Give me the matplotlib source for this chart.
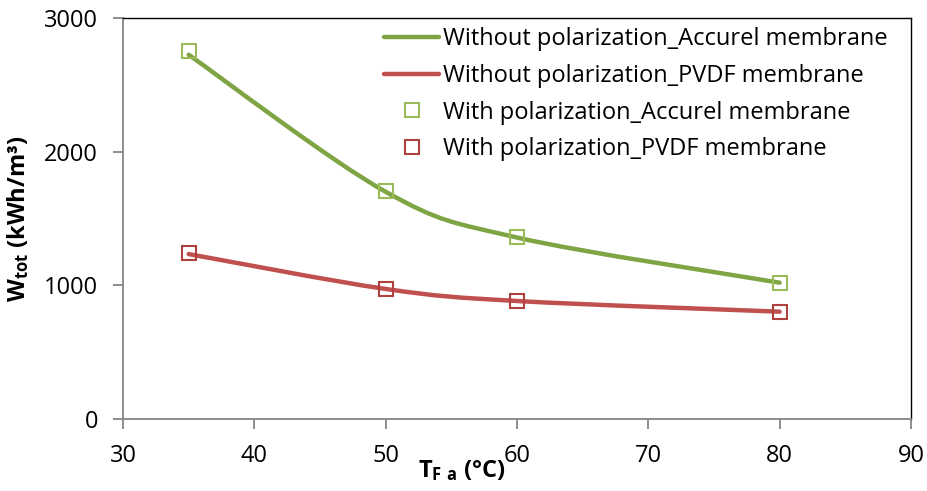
import matplotlib
matplotlib.use("Agg")
import matplotlib.pyplot as plt
from matplotlib.path import Path
from matplotlib.patches import PathPatch
from matplotlib.lines import Line2D

# data
temps = [35, 50, 60, 80]
line_accurel = [2725, 1700, 1358, 1020]
line_pvdf = [1234, 973, 883, 803]
pol_accurel = [2755, 1706, 1362, 1017]
pol_pvdf = [1242, 973, 883, 800]

GREEN_LINE = "#7EA444"
RED_LINE = "#C0504D"
GREEN_MK = "#9BBB59"
RED_MK = "#B0403D"
GREY = "#868686"

plt.rcParams['font.family'] = ['Open Sans', 'DejaVu Sans']
plt.rcParams['mathtext.fontset'] = 'custom'
plt.rcParams['mathtext.rm'] = 'Open Sans'
plt.rcParams['mathtext.bf'] = 'Open Sans:bold'
FS = 17


def smooth_path(xs, ys):
    # excel-like smoothed line: cubic bezier through each point
    pts = list(zip(xs, ys))
    n = len(pts)
    verts = [pts[0]]
    codes = [Path.MOVETO]
    for i in range(n - 1):
        p0 = pts[i - 1] if i > 0 else pts[i]
        p1 = pts[i]
        p2 = pts[i + 1]
        p3 = pts[i + 2] if i + 2 < n else pts[i + 1]
        c1 = (p1[0] + (p2[0] - p0[0]) / 6, p1[1] + (p2[1] - p0[1]) / 6)
        c2 = (p2[0] - (p3[0] - p1[0]) / 6, p2[1] - (p3[1] - p1[1]) / 6)
        verts += [c1, c2, p2]
        codes += [Path.CURVE4] * 3
    return Path(verts, codes)


fig = plt.figure(figsize=(9.27, 4.91), dpi=100)
ax = fig.add_axes([0.1327, 0.1466, 0.85, 0.8167])

for ys, c in [(line_accurel, GREEN_LINE), (line_pvdf, RED_LINE)]:
    ax.add_patch(PathPatch(smooth_path(temps, ys), facecolor='none',
                           edgecolor=c, lw=3.2, capstyle='round', zorder=2))

ax.plot(temps, pol_accurel, ls='none', marker='s', ms=10, mfc='none',
        mec=GREEN_MK, mew=1.5, zorder=3)
ax.plot(temps, pol_pvdf, ls='none', marker='s', ms=10, mfc='none',
        mec=RED_MK, mew=1.5, zorder=3)

ax.set_xlim(30, 90)
ax.set_ylim(0, 3000)
ax.set_xticks(range(30, 91, 10))
ax.set_yticks(range(0, 3001, 1000))

for s in ['left', 'bottom']:
    ax.spines[s].set_color(GREY)
    ax.spines[s].set_linewidth(1.3)
for s in ['top', 'right']:
    ax.spines[s].set_color('black')
    ax.spines[s].set_linewidth(1.0)

ax.tick_params(axis='both', direction='out', length=7, width=1.3,
               color=GREY, labelsize=FS, labelcolor='black')
ax.tick_params(axis='x', pad=11)
ax.tick_params(axis='y', pad=11)

ax.set_ylabel(r"$\mathbf{W_{tot}}$ (kWh/m³)", fontsize=FS, fontweight='bold')
ax.set_xlabel(r"$\mathbf{T_{F\ a}}$ (°C)", fontsize=FS, fontweight='bold')
ax.yaxis.set_label_coords(-0.117, 0.5)
ax.xaxis.set_label_coords(0.43, -0.097)

handles = [
    Line2D([], [], color=GREEN_LINE, lw=3.2, solid_capstyle='round'),
    Line2D([], [], color=RED_LINE, lw=3.2, solid_capstyle='round'),
    Line2D([], [], ls='none', marker='s', ms=10, mfc='none', mec=GREEN_MK, mew=1.5),
    Line2D([], [], ls='none', marker='s', ms=10, mfc='none', mec=RED_MK, mew=1.5),
]
labels = ["Without polarization_Accurel membrane",
          "Without polarization_PVDF membrane",
          "With polarization_Accurel membrane",
          "With polarization_PVDF membrane"]
fig.legend(handles, labels, loc='upper left', bbox_to_anchor=(0.404, 0.964),
           frameon=False, fontsize=FS, handlelength=2.35, handletextpad=0.15,
           labelspacing=0.54, borderaxespad=0)

fig.savefig("out.png", dpi=100)
